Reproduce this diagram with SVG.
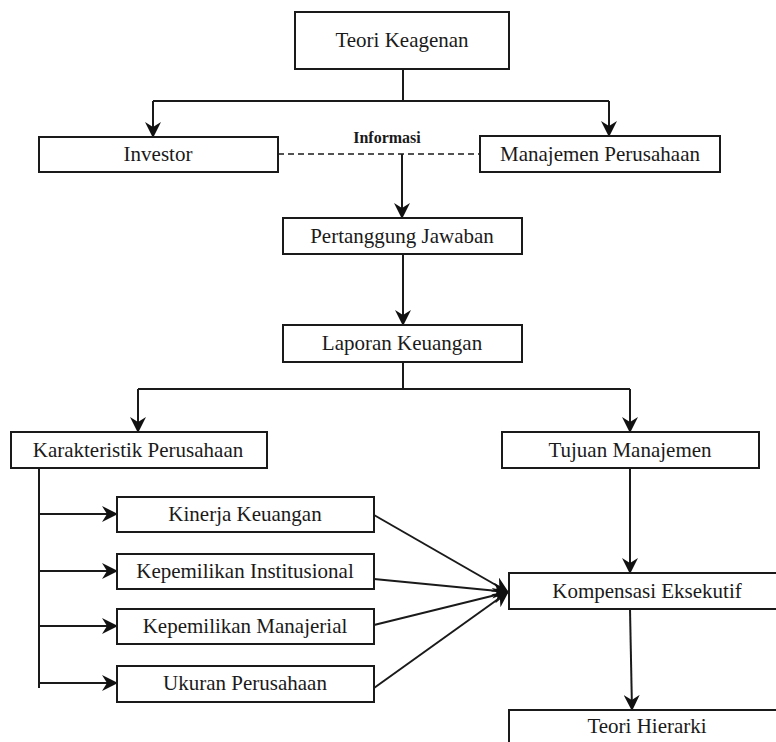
<svg xmlns="http://www.w3.org/2000/svg" width="776" height="742" viewBox="0 0 776 742">
<style>
.box{fill:#fff;stroke:#1a1a1a;stroke-width:2}
.t{font-family:"Liberation Serif","Times New Roman",serif;font-size:21px;fill:#1a1a1a;text-anchor:middle}
.c{fill:none;stroke:#1a1a1a;stroke-width:2}
.a{marker-end:url(#ah)}
.d{stroke-dasharray:6,4;stroke-width:1.6}
</style>
<defs>
<marker id="ah" viewBox="0 0 16 16" refX="15" refY="8" markerWidth="16" markerHeight="16" markerUnits="userSpaceOnUse" orient="auto">
<path d="M0,0 L16,8 L0,16 L5,8 z" fill="#111"/>
</marker>
</defs>
<rect width="776" height="742" fill="#fff"/>
<g id="connectors">
<path class="c" d="M403,69 V101 M153,101 H609"/>
<path class="c a" d="M153,101 V137"/>
<path class="c a" d="M609,101 V136"/>
<path class="c d" d="M278,154 H480"/>
<path class="c a" d="M402,154 V218"/>
<path class="c a" d="M403,254 V325"/>
<path class="c" d="M403,362 V389 M138,389 H630"/>
<path class="c a" d="M138,389 V432"/>
<path class="c a" d="M630,389 V432"/>
<path class="c" d="M39,468 V688"/>
<path class="c a" d="M39,514 H117"/>
<path class="c a" d="M39,571 H117"/>
<path class="c a" d="M39,626 H117"/>
<path class="c a" d="M39,683 H117"/>
<path class="c a" d="M374,515 L508,592"/>
<path class="c a" d="M374,579 L508,592"/>
<path class="c a" d="M374,625 L508,592"/>
<path class="c a" d="M374,688 L508,592"/>
<path class="c a" d="M630,468 V573"/>
<path class="c a" d="M630,609 L632,710"/>
<text x="387" y="143" style="font-family:'Liberation Serif','Times New Roman',serif;font-size:16px;font-weight:bold;fill:#1a1a1a;text-anchor:middle">Informasi</text>
</g>
<g id="teori-keagenan"><rect class="box" x="295" y="12" width="214" height="57"/><text class="t" x="402" y="47">Teori Keagenan</text></g>
<g id="investor"><rect class="box" x="39" y="137" width="239" height="35"/><text class="t" x="158" y="161">Investor</text></g>
<g id="manajemen-perusahaan"><rect class="box" x="480" y="136" width="240" height="36"/><text class="t" x="600" y="161">Manajemen Perusahaan</text></g>
<g id="pertanggung-jawaban"><rect class="box" x="283" y="218" width="239" height="36"/><text class="t" x="402" y="243">Pertanggung Jawaban</text></g>
<g id="laporan-keuangan"><rect class="box" x="283" y="325" width="239" height="37"/><text class="t" x="402" y="350">Laporan Keuangan</text></g>
<g id="karakteristik-perusahaan"><rect class="box" x="11" y="432" width="256" height="36"/><text class="t" x="138" y="457">Karakteristik Perusahaan</text></g>
<g id="tujuan-manajemen"><rect class="box" x="502" y="432" width="257" height="36"/><text class="t" x="630" y="457">Tujuan Manajemen</text></g>
<g id="kinerja-keuangan"><rect class="box" x="117" y="497" width="257" height="35"/><text class="t" x="245" y="521">Kinerja Keuangan</text></g>
<g id="kepemilikan-institusional"><rect class="box" x="117" y="554" width="257" height="35"/><text class="t" x="245" y="578">Kepemilikan Institusional</text></g>
<g id="kepemilikan-manajerial"><rect class="box" x="117" y="609" width="257" height="35"/><text class="t" x="245" y="633">Kepemilikan Manajerial</text></g>
<g id="ukuran-perusahaan"><rect class="box" x="117" y="666" width="257" height="36"/><text class="t" x="245" y="690">Ukuran Perusahaan</text></g>
<g id="kompensasi-eksekutif"><rect class="box" x="509" y="573" width="282" height="36"/><text class="t" x="647" y="598">Kompensasi Eksekutif</text></g>
<g id="teori-hierarki"><rect class="box" x="509" y="710" width="282" height="50"/><text class="t" x="647" y="733">Teori Hierarki</text></g>
</svg>
